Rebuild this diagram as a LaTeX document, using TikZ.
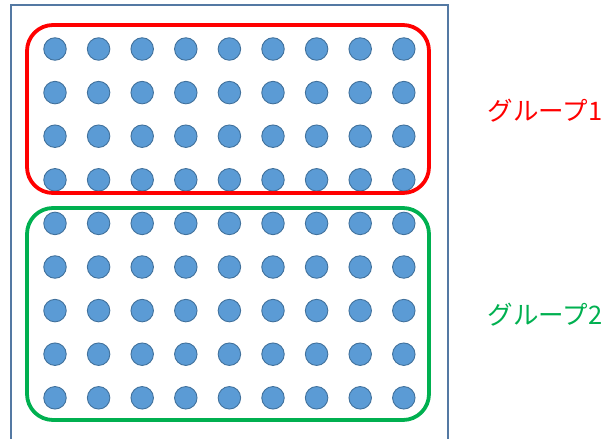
\documentclass[tikz,border=0pt]{standalone}
\usepackage{fontspec}
\newfontfamily\jpfont{Noto Sans CJK JP}
\definecolor{dotfill}{HTML}{5B9BD5}
\definecolor{dotline}{HTML}{41719C}
\definecolor{frameblue}{HTML}{5479A3}
\definecolor{grpred}{HTML}{FF0000}
\definecolor{grpgreen}{HTML}{00B050}
\tikzset{
  dot/.style={circle, fill=dotfill, draw=dotline, line width=0.9pt, minimum size=22.5pt, inner sep=0pt},
  grpbox/.style={line width=3.8pt, rounded corners=26pt},
  grplabel/.style={font=\jpfont\fontsize{25.5}{28}\selectfont, inner sep=0pt}
}
\begin{document}
\begin{tikzpicture}[x=1pt,y=-1pt]
\useasboundingbox (0,0) rectangle (611,439);
\draw[frameblue, line width=1.5pt] (11,440) -- (11,5) -- (448,5) -- (448,440);
\foreach \r in {0,...,8} {
  \foreach \c in {0,...,8} {
    \node[dot] (d\r-\c) at ({55+43.6*\c},{49+43.6*\r}) {};
  }
}
\draw[grpbox, grpred] (27,25) rectangle (429,193);
\draw[grpbox, grpgreen] (27,208) rectangle (429,420);
\node[grplabel, text=grpred] (g1) at (545,111) {グループ1};
\node[grplabel, text=grpgreen] (g2) at (545,315) {グループ2};
\end{tikzpicture}
\end{document}
